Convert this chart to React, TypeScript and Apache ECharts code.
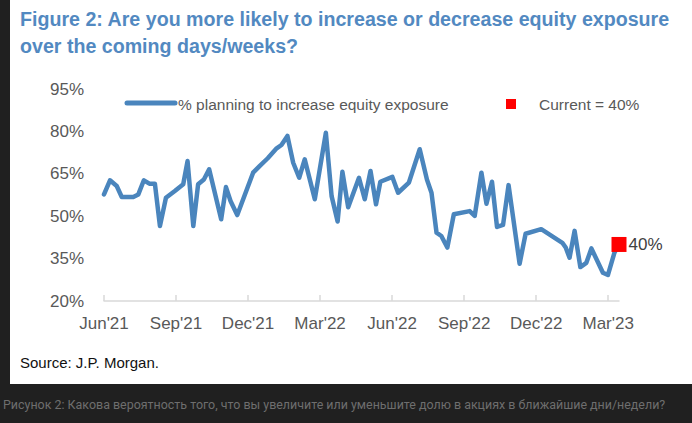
import React, { useEffect, useRef } from "react";
import * as echarts from "echarts";

// months since Jun'21 (x position) and % planning to increase equity exposure
const months = [0, 0.25, 0.53, 0.74, 1.22, 1.43, 1.66, 1.89, 2.12, 2.33, 2.58, 2.95, 3.3, 3.48, 3.72, 3.92, 4.16, 4.38, 4.88, 5.08, 5.27, 5.55, 6.21, 6.49, 6.82, 7.19, 7.39, 7.64, 7.88, 8.13, 8.36, 8.78, 9.24, 9.48, 9.73, 9.93, 10.17, 10.62, 10.86, 11.1, 11.33, 11.51, 12.01, 12.25, 12.7, 13.15, 13.45, 13.64, 13.85, 14.05, 14.3, 14.57, 15.23, 15.44, 15.72, 15.93, 16.16, 16.37, 16.62, 16.85, 17.31, 17.56, 18.21, 19.09, 19.23, 19.39, 19.6, 19.84, 20.09, 20.3, 20.78, 20.99, 21.26, 21.45];
const values = [57.7, 62.7, 60.7, 56.8, 56.8, 57.7, 62.7, 61.5, 61.5, 46.5, 56.5, 58.9, 61.3, 69.5, 46.5, 61.3, 63.0, 66.6, 48.9, 60.3, 55.4, 50.4, 65.4, 67.8, 70.5, 74.0, 75.2, 78.4, 68.9, 63.6, 70.1, 56.0, 79.5, 57.1, 48.1, 65.7, 53.2, 63.6, 56.0, 66.0, 54.2, 62.2, 63.9, 58.3, 61.9, 73.7, 63.0, 58.3, 44.2, 43.0, 38.9, 50.7, 51.8, 50.1, 65.4, 54.4, 62.2, 46.2, 46.9, 61.0, 33.2, 43.8, 45.4, 40.6, 38.9, 35.3, 44.8, 32.0, 33.5, 38.6, 30.0, 29.2, 37.1, 40];
const currentPoint = [21.45, 40];
const tickLabels = ["Jun'21", "Sep'21", "Dec'21", "Mar'22", "Jun'22", "Sep'22", "Dec'22", "Mar'23"];
const tickValues = [0, 3, 6, 9, 12, 15, 18, 21];

const seriesName = "% planning to increase equity exposure";
const currentName = "Current = 40%";
const titleLine1 = "Figure 2: Are you more likely to increase or decrease equity exposure";
const titleLine2 = "over the coming days/weeks?";
const sourceText = "Source: J.P. Morgan.";
const captionText = "Рисунок 2: Какова вероятность того, что вы увеличите или уменьшите долю в акциях в ближайшие дни/недели?";

const LINE_COLOR = "#4a85bd";
const TITLE_COLOR = "#5289c1";
const GRAY = "#595959";
const FONT = '"Liberation Sans", Arial, sans-serif';

export default function App() {
  const ref = useRef<HTMLDivElement>(null);
  useEffect(() => {
    document.body.style.margin = "0";
    const chart = echarts.init(ref.current!, null, { renderer: "svg" });
    const lineData = months.map((m, i) => [m, values[i]]);
    chart.setOption({
      animation: false,
      backgroundColor: "#202020",
      textStyle: { fontFamily: FONT },
      grid: { left: 104, right: 73, top: 89, bottom: 122, containLabel: false },
      xAxis: {
        type: "value",
        min: 0,
        max: 21.45,
        interval: 3,
        axisLine: { show: true, lineStyle: { color: "#d9d9d9", width: 1.5 } },
        axisTick: { show: true, inside: true, length: 6, customValues: tickValues, lineStyle: { color: "#d9d9d9", width: 1.5 } },
        axisLabel: {
          customValues: tickValues,
          formatter: (v: number) => tickLabels[Math.round(v / 3)] ?? "",
          color: GRAY,
          fontSize: 17,
          fontFamily: FONT,
          margin: 14,
        },
        splitLine: { show: false },
      },
      yAxis: {
        type: "value",
        min: 20,
        max: 95,
        interval: 15,
        axisLine: { show: false },
        axisTick: { show: false },
        splitLine: { show: false },
        axisLabel: { formatter: (v: number) => v + "%", color: GRAY, fontSize: 17, fontFamily: FONT, margin: 20 },
      },
      series: [
        {
          name: seriesName,
          type: "line",
          data: lineData,
          showSymbol: false,
          symbol: "none",
          lineStyle: { color: LINE_COLOR, width: 4.5, join: "round", cap: "round" },
          z: 3,
        },
        {
          name: currentName,
          type: "scatter",
          data: [currentPoint],
          symbol: "rect",
          symbolSize: 15,
          itemStyle: { color: "#ff0000", opacity: 1 },
          label: {
            show: true,
            position: "right",
            distance: 2,
            formatter: (p: any) => p.value[1] + "%",
            color: "#404040",
            fontSize: 17,
            fontFamily: FONT,
          },
          z: 4,
        },
      ],
      graphic: [
        { type: "rect", z: -100, silent: true, shape: { x: 10, y: 0, width: 682, height: 384 }, style: { fill: "#ffffff" } },
        {
          type: "text", x: 20, y: 19, scaleX: 0.935, z: 100,
          style: { text: titleLine1, fontSize: 21, fontWeight: "bold", fontFamily: FONT, fill: TITLE_COLOR, align: "left", verticalAlign: "middle" },
        },
        {
          type: "text", x: 20, y: 46, scaleX: 0.935, z: 100,
          style: { text: titleLine2, fontSize: 21, fontWeight: "bold", fontFamily: FONT, fill: TITLE_COLOR, align: "left", verticalAlign: "middle" },
        },
        { type: "line", z: 100, shape: { x1: 127, y1: 103, x2: 175, y2: 103 }, style: { stroke: LINE_COLOR, lineWidth: 5, lineCap: "round" } },
        {
          type: "text", x: 178, y: 104, z: 100,
          style: { text: seriesName, fontSize: 15.5, fontFamily: FONT, fill: GRAY, align: "left", verticalAlign: "middle" },
        },
        { type: "rect", z: 100, shape: { x: 506, y: 99, width: 10, height: 10 }, style: { fill: "#ff0000" } },
        {
          type: "text", x: 539, y: 104, z: 100,
          style: { text: currentName, fontSize: 15.5, fontFamily: FONT, fill: GRAY, align: "left", verticalAlign: "middle" },
        },
        {
          type: "text", x: 20, y: 362, z: 100,
          style: { text: sourceText, fontSize: 15, fontFamily: FONT, fill: "#111111", align: "left", verticalAlign: "middle" },
        },
        {
          type: "text", x: 3, y: 404, z: 100,
          style: { text: captionText, fontSize: 12.45, fontFamily: "Roboto, sans-serif", fill: "#6e6e6e", align: "left", verticalAlign: "middle" },
        },
      ],
    });
    return () => chart.dispose();
  }, []);
  return <div ref={ref} style={{ position: "fixed", left: 0, top: 0, width: 692, height: 423 }} />;
}
